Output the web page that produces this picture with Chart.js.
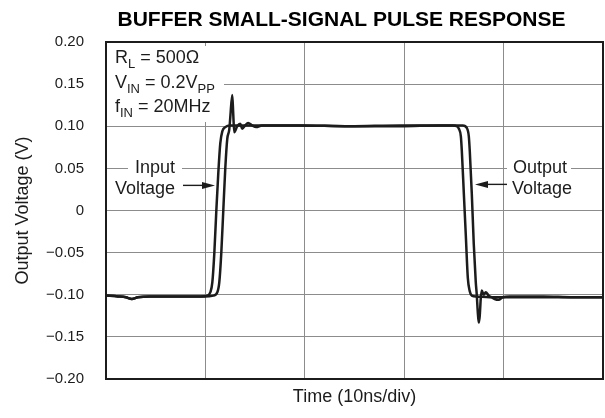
<!DOCTYPE html>
<html>
<head>
<meta charset="utf-8">
<script src="https://cdn.jsdelivr.net/npm/chart.js@4/dist/chart.umd.min.js"></script>
<style>
  html, body { margin: 0; padding: 0; background: #fff; }
  #wrap { width: 605px; height: 418px; }
</style>
</head>
<body>
<div id="wrap"><canvas id="pulseChart" width="605" height="418"></canvas></div>
<script>
// Time axis in ns (10 ns per division), voltages in V
const inputTime = [0, 1.2, 2.0, 2.6, 3.2, 4.4, 7.4, 9.5, 10.2, 10.5, 10.7, 10.9, 11.1, 11.3, 11.5, 11.7, 12.0, 12.5,
  15.5, 19.5, 24.5, 29.6, 33.6, 34.9, 35.3, 35.5, 35.7, 35.8, 36.0, 36.2, 36.4, 36.6, 36.8, 37.3, 38.6, 42.7, 46.7, 50];
const inputVolts = [-0.101, -0.102, -0.103, -0.105, -0.103, -0.102, -0.102, -0.102, -0.101, -0.097, -0.085, -0.05, 0.0, 0.045, 0.08, 0.094, 0.099, 0.101,
  0.101, 0.101, 0.100, 0.100, 0.101, 0.101, 0.100, 0.097, 0.088, 0.07, 0.02, -0.03, -0.08, -0.096, -0.101, -0.102, -0.103, -0.103, -0.103, -0.103];

const outputTime = [0, 1.2, 2.0, 2.6, 3.2, 4.4, 7.4, 9.9, 10.8, 11.2, 11.4, 11.6, 11.8, 12.0, 12.2, 12.4, 12.5, 12.7, 12.8, 12.9,
  13.2, 13.5, 13.7, 14.0, 14.3, 14.7, 15.1, 15.7, 19.5, 24.5, 29.6, 35.1, 35.9, 36.3, 36.5, 36.6, 36.8, 37.0, 37.2, 37.3,
  37.4, 37.5, 37.6, 37.7, 37.8, 38.0, 38.2, 38.5, 38.8, 39.1, 39.5, 39.9, 40.6, 44.0, 47.0, 50];
const outputVolts = [-0.101, -0.102, -0.103, -0.105, -0.103, -0.102, -0.102, -0.102, -0.101, -0.097, -0.085, -0.05, 0.0, 0.05, 0.085, 0.096, 0.11, 0.137, 0.115, 0.093,
  0.100, 0.103, 0.097, 0.101, 0.104, 0.101, 0.099, 0.101, 0.101, 0.100, 0.101, 0.101, 0.101, 0.098, 0.088, 0.07, 0.02, -0.04, -0.085, -0.10,
  -0.12, -0.133, -0.125, -0.105, -0.095, -0.100, -0.097, -0.101, -0.103, -0.105, -0.106, -0.103, -0.102, -0.102, -0.103, -0.103];

const yMin = -0.2, yMax = 0.2, yStep = 0.05;
const xMin = 0, xMax = 50, xStep = 10;
const chartTitle = 'BUFFER SMALL-SIGNAL PULSE RESPONSE';

const ink = '#1c1c1c';
const gridGray = '#8c8c8c';
const fontStack = '"Liberation Sans", Arial, Helvetica, sans-serif';
Chart.defaults.font.family = fontStack;
Chart.defaults.color = ink;

function toPoints(xs, ys) {
  return xs.map((x, i) => ({ x: x, y: ys[i] }));
}

function fmtVolt(v) {
  if (Math.abs(v) < 1e-9) return '0';
  return (v < 0 ? '\u2212' : '') + Math.abs(v).toFixed(2);
}

// text with subscripts: parts = [[text, isSub], ...]
function drawRich(ctx, x, y, parts, size) {
  let cx = x;
  parts.forEach(([txt, sub]) => {
    ctx.font = (sub ? Math.round(size * 0.72) : size) + 'px ' + fontStack;
    ctx.fillText(txt, cx, sub ? y + size * 0.3 : y);
    cx += ctx.measureText(txt).width;
  });
}

function arrow(ctx, x0, x1, y) {
  const dir = x1 > x0 ? 1 : -1;
  ctx.beginPath();
  ctx.moveTo(x0, y);
  ctx.lineTo(x1 - dir * 10, y);
  ctx.stroke();
  ctx.beginPath();
  ctx.moveTo(x1, y);
  ctx.lineTo(x1 - dir * 13, y - 3.5);
  ctx.lineTo(x1 - dir * 13, y + 3.5);
  ctx.closePath();
  ctx.fill();
}

const notesPlugin = {
  id: 'notes',
  beforeDatasetsDraw(chart) {
    const { ctx, chartArea: a, scales: { y } } = chart;
    const size = 18;
    ctx.save();
    // title
    ctx.fillStyle = '#000';
    ctx.font = 'bold 21px ' + fontStack;
    ctx.textAlign = 'center';
    ctx.textBaseline = 'alphabetic';
    ctx.fillText(chartTitle, (a.left + a.right) / 2 - 13, 26);

    // condition box, top left
    ctx.fillStyle = '#fff';
    ctx.fillRect(a.left + 1, a.top + 4, 117, 76);
    ctx.fillStyle = ink;
    ctx.textAlign = 'left';
    drawRich(ctx, a.left + 9, a.top + 21, [['R'], ['L', true], [' = 500\u03A9']], size);
    drawRich(ctx, a.left + 9, a.top + 46, [['V'], ['IN', true], [' = 0.2V'], ['PP', true]], size);
    drawRich(ctx, a.left + 9, a.top + 70, [['f'], ['IN', true], [' = 20MHz']], size);

    // Input / Output labels sit on the 0.05 V gridline
    const yRow = y.getPixelForValue(0.05);
    ctx.font = size + 'px ' + fontStack;
    ctx.textBaseline = 'middle';
    ctx.fillStyle = '#fff';
    ctx.fillRect(128, yRow - 8, 54, 16);
    ctx.fillRect(507, yRow - 8, 64, 16);
    ctx.fillStyle = ink;
    ctx.textAlign = 'center';
    ctx.fillText('Input', 155, yRow);
    ctx.fillText('Voltage', 145, yRow + 21);
    ctx.textAlign = 'left';
    ctx.fillText('Output', 513, yRow);
    ctx.fillText('Voltage', 512, yRow + 21);

    ctx.strokeStyle = ink;
    ctx.lineWidth = 1.4;
    arrow(ctx, 183, 215, yRow + 17);
    arrow(ctx, 507, 475, yRow + 16);
    ctx.restore();
  },
  afterDatasetsDraw(chart) {
    const { ctx, chartArea: a } = chart;
    ctx.save();
    ctx.strokeStyle = ink;
    ctx.lineWidth = 2;
    ctx.strokeRect(a.left, a.top, a.right - a.left, a.bottom - a.top);
    ctx.restore();
  }
};

const lineStyle = {
  showLine: true,
  borderColor: ink,
  borderWidth: 2.5,
  pointRadius: 0,
  cubicInterpolationMode: 'monotone',
  fill: false
};

const ctx = document.getElementById('pulseChart').getContext('2d');
const pulseChart = new Chart(ctx, {
  type: 'scatter',
  data: {
    datasets: [
      Object.assign({ label: 'Input Voltage', data: toPoints(inputTime, inputVolts) }, lineStyle),
      Object.assign({ label: 'Output Voltage', data: toPoints(outputTime, outputVolts) }, lineStyle)
    ]
  },
  options: {
    responsive: false,
    animation: false,
    layout: { padding: { top: 42, right: 2, bottom: 0, left: 0 } },
    plugins: {
      legend: { display: false },
      tooltip: { enabled: false },
      title: { display: false }
    },
    scales: {
      x: {
        type: 'linear',
        min: xMin,
        max: xMax,
        ticks: { stepSize: xStep, display: false },
        grid: { color: gridGray, lineWidth: 1, drawTicks: false },
        border: { display: false },
        title: { display: true, text: 'Time (10ns/div)', font: { size: 18 }, color: ink, padding: { top: 4, bottom: 10 } },
        afterFit(scale) { scale.height = 39; }
      },
      y: {
        min: yMin,
        max: yMax,
        ticks: { stepSize: yStep, padding: 22, font: { size: 15 }, color: ink, callback: v => fmtVolt(v) },
        grid: { color: gridGray, lineWidth: 1, drawTicks: false },
        border: { display: false },
        title: { display: true, text: 'Output Voltage (V)', font: { size: 18 }, color: ink, padding: { top: 12, bottom: 4 } },
        afterFit(scale) { scale.width = 106; }
      }
    }
  },
  plugins: [notesPlugin]
});
</script>
</body>
</html>
